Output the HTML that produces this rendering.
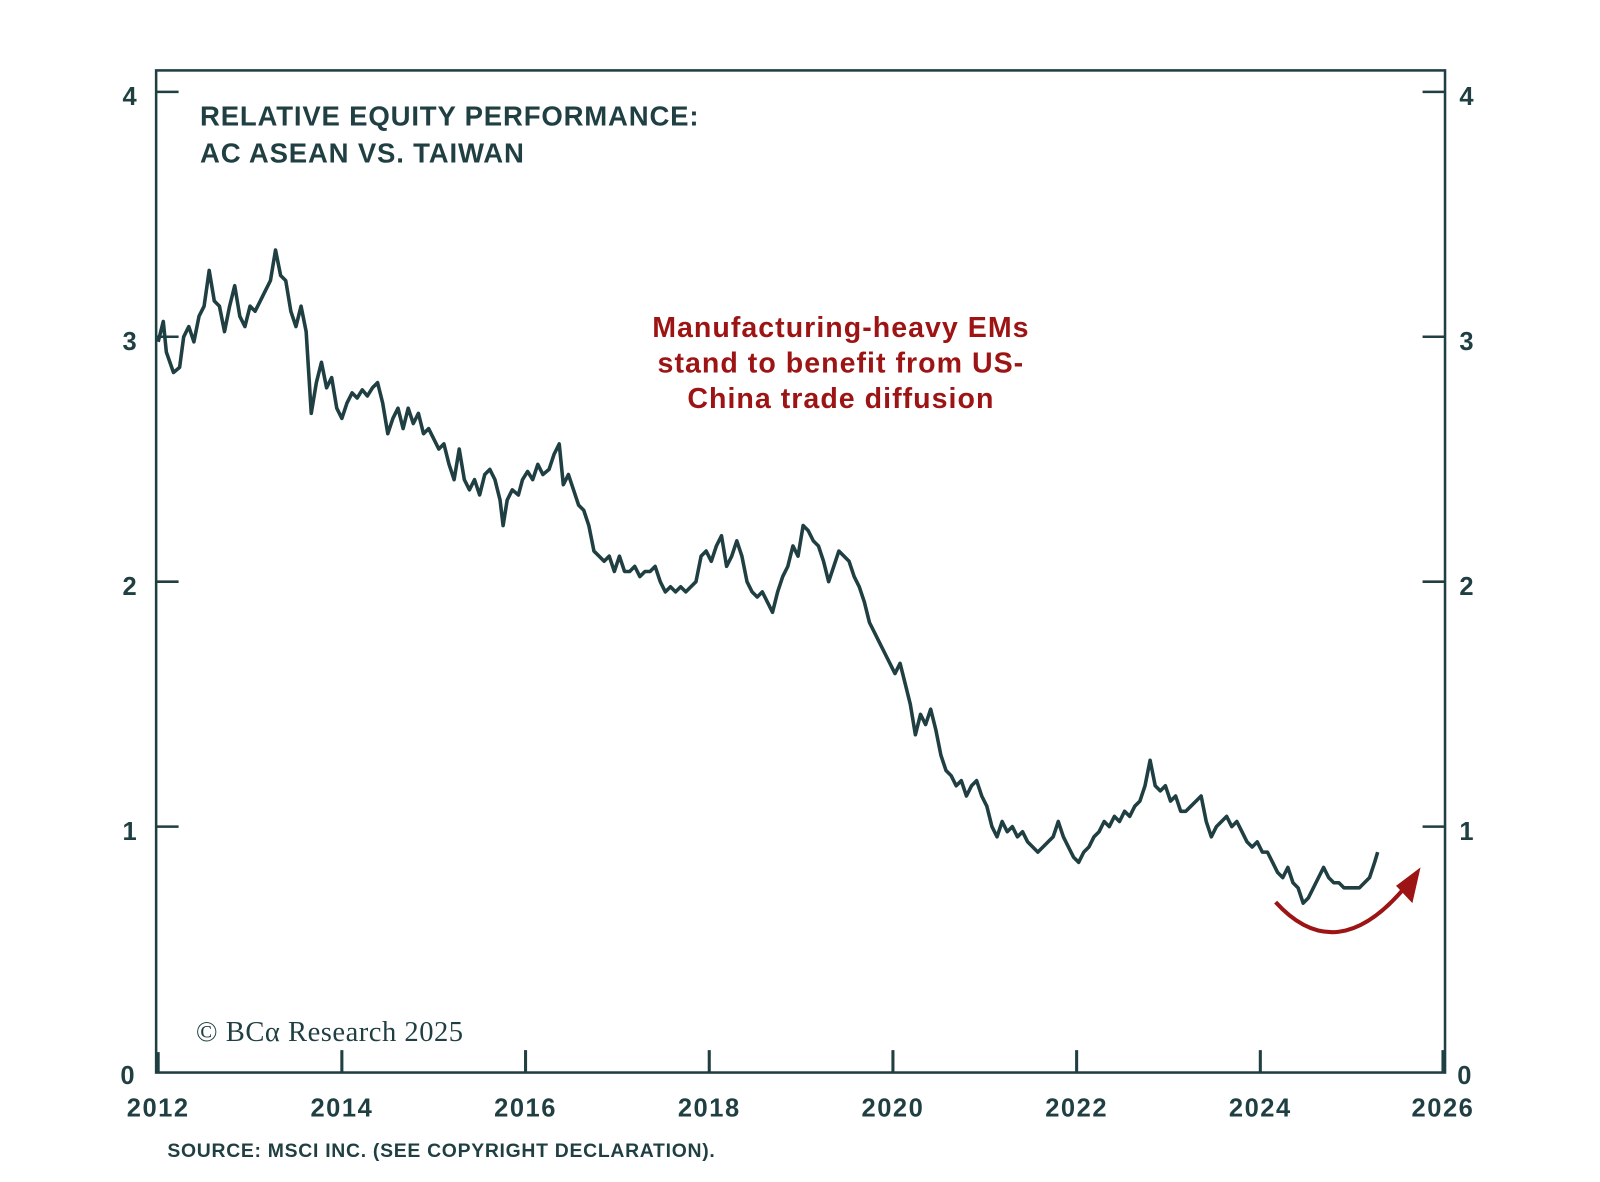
<!DOCTYPE html>
<html><head><style>
body{margin:0;background:#fff;}
svg text{font-family:"Liberation Sans",sans-serif;}
</style></head><body>
<svg width="1600" height="1177" viewBox="0 0 1600 1177" xmlns="http://www.w3.org/2000/svg">
<rect width="1600" height="1177" fill="#fff"/>
<g transform="scale(1.0205)">
<g stroke="#1f3f42" stroke-width="2.5" fill="none">
<rect x="153" y="69" width="1263" height="982"/>
<path d="M153 90h22M153 330h22M153 570h22M153 810h22M1416 90h-22M1416 330h-22M1416 570h-22M1416 810h-22"/>
<path d="M155 1051v-20M335 1051v-22M515 1051v-22M695 1051v-22M875 1051v-22M1055 1051v-22M1235 1051v-22M1414 1051v-22" stroke-width="3"/>
</g>
<g fill="#1f3f42" font-size="25" font-weight="bold" letter-spacing="1.5">
<text x="120" y="103">4</text><text x="120" y="343">3</text><text x="120" y="583">2</text><text x="120" y="823">1</text><text x="118" y="1062">0</text>
<text x="1430" y="103">4</text><text x="1430" y="343">3</text><text x="1430" y="583">2</text><text x="1430" y="823">1</text><text x="1428" y="1062">0</text>
<g text-anchor="middle"><text x="155" y="1094">2012</text><text x="335" y="1094">2014</text><text x="515" y="1094">2016</text><text x="695" y="1094">2018</text><text x="875" y="1094">2020</text><text x="1055" y="1094">2022</text><text x="1235" y="1094">2024</text><text x="1414" y="1094">2026</text></g>
</g>
<g fill="#1f3f42" font-size="27" font-weight="bold" letter-spacing="0.8">
<text x="196" y="123">RELATIVE EQUITY PERFORMANCE:</text>
<text x="196" y="159">AC ASEAN VS. TAIWAN</text>
</g>
<text x="164" y="1134" fill="#1f3f42" font-size="19" font-weight="bold" letter-spacing="0.7">SOURCE: MSCI INC. (SEE COPYRIGHT DECLARATION).</text>
<text x="192" y="1020" fill="#1f3f42" font-size="28" letter-spacing="0.5" style="font-family:'Liberation Serif',serif">© BCα Research 2025</text>
<g fill="#9c1414" font-size="28" font-weight="bold" text-anchor="middle" letter-spacing="1">
<text x="824" y="330">Manufacturing-heavy EMs</text>
<text x="824" y="365">stand to benefit from US-</text>
<text x="824" y="400">China trade diffusion</text>
</g>
<polyline fill="none" stroke="#1f3f42" stroke-width="3.5" stroke-linejoin="round" points="155,335 160,315 163,345 170,365 176,360 180,330 185,320 190,335 195,310 200,300 205,265 210,295 215,300 220,325 225,300 230,280 235,310 240,320 245,300 250,305 255,295 260,285 265,275 270,245 275,270 280,275 285,305 290,320 295,300 300,325 305,405 310,375 315,355 320,380 325,370 330,400 335,410 340,395 345,385 350,390 355,382 360,388 365,380 370,375 375,395 380,425 385,410 390,400 395,420 400,400 405,415 410,405 415,425 420,420 425,430 430,440 435,435 440,455 445,470 450,440 455,470 460,480 465,470 470,485 475,465 480,460 485,470 490,490 493,515 497,490 502,480 508,485 512,470 517,462 522,470 527,455 532,465 538,460 543,445 548,435 552,475 557,465 562,480 567,495 572,500 577,515 582,540 587,545 592,550 597,545 602,560 607,545 612,560 617,560 622,555 627,565 632,560 637,560 642,555 647,570 652,580 657,575 662,580 667,575 672,580 677,575 682,570 687,545 692,540 697,550 702,535 707,525 712,555 717,545 722,530 727,545 732,570 737,580 742,585 747,580 752,590 757,600 762,580 767,565 772,555 777,535 782,545 787,515 792,520 797,530 802,535 807,550 812,570 817,555 822,540 827,545 832,550 837,565 842,575 847,590 852,610 857,620 862,630 867,640 872,650 877,660 882,650 887,670 892,690 897,720 902,700 907,710 912,695 917,715 922,740 927,755 932,760 937,770 942,765 947,780 952,770 957,765 962,780 967,790 972,810 977,820 982,805 987,815 992,810 997,820 1002,815 1007,825 1012,830 1017,835 1022,830 1027,825 1032,820 1037,805 1042,820 1047,830 1052,840 1057,845 1062,835 1067,830 1072,820 1077,815 1082,805 1087,810 1092,800 1097,805 1102,795 1107,800 1112,790 1117,785 1122,770 1127,745 1132,770 1137,775 1142,770 1147,785 1152,780 1157,795 1162,795 1167,790 1172,785 1177,780 1182,805 1187,820 1192,810 1197,805 1202,800 1207,810 1212,805 1217,815 1222,825 1227,830 1232,825 1237,835 1242,835 1247,845 1252,855 1257,860 1262,850 1267,865 1272,870 1277,885 1282,880 1287,870 1292,860 1297,850 1302,860 1307,865 1312,865 1317,870 1322,870 1327,870 1332,870 1337,865 1342,860 1347,845 1350,835"/>
<path d="M1250 884 Q1310 950 1378 868" fill="none" stroke="#9c1414" stroke-width="4"/>
<path d="M1392 850 L1384 885 L1368 868 Z" fill="#9c1414"/>
</g>
</svg>
</body></html>
